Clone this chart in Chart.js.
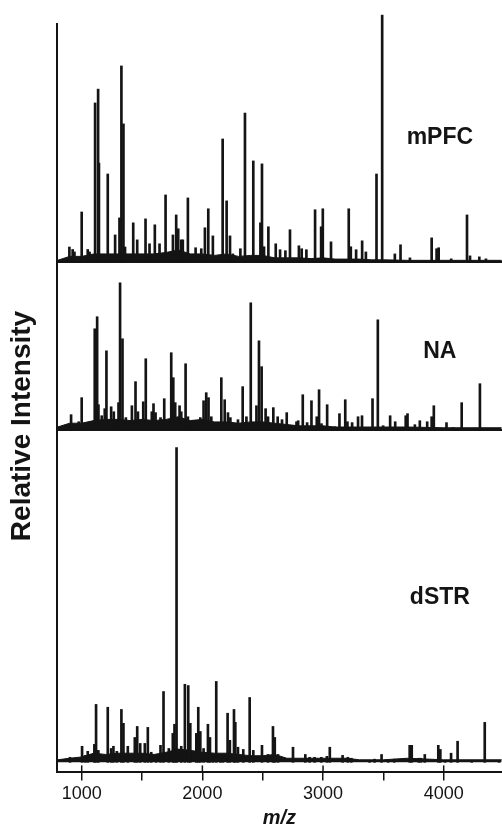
<!DOCTYPE html>
<html>
<head>
<meta charset="utf-8">
<script src="https://cdn.jsdelivr.net/npm/chart.js@4.4.1/dist/chart.umd.min.js"></script>
<style>
html,body{margin:0;padding:0;background:#fff;overflow:hidden}
canvas{display:block}
</style>
</head>
<body>
<canvas id="c" width="502" height="828"></canvas>
<script>
// ---------------- data ----------------
const panelNames = ['mPFC', 'NA', 'dSTR'];
const xTickLabels = [1000, 2000, 3000, 4000];
const xMinorTicks = [1500, 2500, 3500];

// mPFC peaks (m/z, relative intensity %)
const mpfcMz = [898, 925, 940, 1000, 1050, 1065, 1111, 1136, 1143, 1216, 1277, 1313, 1329, 1346, 1359, 1427, 1460, 1529, 1562, 1606, 1645, 1695, 1756, 1783, 1800, 1825, 1838, 1880, 1944, 1991, 2021, 2049, 2087, 2168, 2201, 2229, 2253, 2315, 2353, 2422, 2481, 2494, 2511, 2547, 2608, 2644, 2688, 2726, 2800, 2823, 2862, 2934, 2984, 2998, 3066, 3213, 3230, 3274, 3324, 3355, 3443, 3490, 3595, 3642, 3720, 3900, 3941, 3958, 4062, 4193, 4218, 4295, 4350];
const mpfcInt = [6, 5, 4, 20.2, 5, 4, 64.4, 70, 40, 35.6, 10.9, 17.8, 79.4, 55.9, 6, 15.8, 8.9, 17.4, 7.3, 15, 7.3, 27.1, 10.9, 19, 13.4, 8.9, 8.9, 25.9, 5.7, 5.3, 13.8, 21.5, 10.5, 49.8, 24.7, 10.5, 3.2, 5.3, 60.3, 40.9, 15.8, 39.7, 6.1, 14.2, 7.3, 4.9, 4.5, 13, 6.5, 5.3, 4.9, 21.1, 14.2, 21.5, 8.1, 21.5, 6.1, 4.9, 8.5, 4, 35.6, 100, 3.2, 6.9, 1.6, 9.7, 5.3, 5.7, 1.2, 19, 2.4, 2, 1.2];

// NA peaks
const naMz = [912, 975, 1000, 1045, 1108, 1128, 1139, 1166, 1191, 1205, 1244, 1266, 1305, 1318, 1338, 1366, 1416, 1446, 1466, 1510, 1531, 1581, 1595, 1612, 1653, 1684, 1742, 1759, 1775, 1811, 1825, 1861, 1880, 1922, 1950, 1983, 2010, 2032, 2051, 2074, 2157, 2185, 2212, 2232, 2295, 2334, 2365, 2401, 2448, 2469, 2491, 2524, 2544, 2588, 2624, 2660, 2699, 2732, 2780, 2794, 2832, 2868, 2904, 2948, 2967, 2987, 3034, 3098, 3136, 3184, 3202, 3241, 3290, 3323, 3410, 3454, 3498, 3556, 3598, 3637, 3685, 3700, 3761, 3802, 3863, 3900, 3918, 4023, 4078, 4149, 4300, 4424];
const naInt = [10.2, 5.4, 21.8, 4.8, 68.7, 76.9, 17, 9.5, 14.3, 53.7, 15.6, 12.2, 18.4, 100, 61.9, 8.2, 16.3, 32.7, 12.2, 19, 48.3, 12.2, 17.7, 11.6, 8.2, 21.1, 52.4, 35.4, 18.4, 16.3, 12.2, 44.9, 8.8, 6.1, 6.1, 8.2, 19.7, 25.2, 21.8, 8.8, 35.4, 20.4, 11.6, 8.2, 6.8, 29.3, 8.8, 86.4, 16.3, 60.5, 42.9, 14.3, 8.8, 15, 8.8, 6.8, 11.6, 2, 5.4, 6.1, 23.8, 4.8, 19.7, 8.8, 27.2, 4.1, 17, 2, 10.9, 20.4, 5.4, 4.8, 8.8, 9.5, 21.1, 74.8, 2.7, 9.5, 5.4, 1.4, 9.5, 10.9, 3.4, 6.1, 5.4, 8.8, 16.3, 4.8, 1.4, 18.4, 31.3, 0.7];

// dSTR peaks
const dstrMz = [903, 1003, 1028, 1050, 1105, 1119, 1138, 1216, 1244, 1263, 1291, 1329, 1346, 1382, 1440, 1460, 1485, 1523, 1548, 1576, 1617, 1653, 1678, 1722, 1755, 1769, 1786, 1825, 1855, 1883, 1900, 1950, 1966, 1983, 2010, 2046, 2063, 2088, 2115, 2149, 2170, 2209, 2228, 2262, 2273, 2295, 2339, 2392, 2422, 2494, 2544, 2585, 2600, 2627, 2751, 2853, 2889, 2930, 2986, 3032, 3056, 3162, 3206, 3234, 3386, 3427, 3485, 3540, 3590, 3718, 3735, 3793, 3810, 3843, 3955, 3972, 4011, 4061, 4115, 4232, 4340, 4459];
const dstrInt = [1.6, 5.1, 2.2, 3.5, 5.7, 18.4, 3.8, 17.5, 4.4, 5.1, 3.5, 16.8, 12.4, 5.1, 7.9, 11.4, 6, 6, 11.1, 3.2, 2.2, 5.4, 22.5, 4.4, 9.2, 12.1, 100, 5.1, 24.8, 24.4, 12.4, 9.2, 17.5, 9.8, 4.4, 12.1, 7.9, 2.5, 25.7, 2.5, 2.5, 15.6, 7, 16.8, 12.7, 4.8, 4.1, 20.6, 3.8, 5.4, 2.5, 11.4, 7.9, 2.5, 4.8, 2.5, 1.6, 1.6, 1.6, 1.9, 4.8, 2.2, 1.6, 1.3, 0.6, 1, 2.5, 0.6, 1, 5.4, 5.4, 1.3, 1.3, 2.5, 5.4, 4.1, 0.6, 2.9, 6.7, 0.6, 12.7, 0.6];

// baseline chemical-noise level
const baseMz = [800, 900, 1000, 1100, 1200, 1300, 1400, 1500, 1600, 1700, 1800, 1900, 2000, 2100, 2200, 2300, 2400, 2500, 2600, 2700, 2800, 2900, 3000, 3100, 3200, 3300, 3400, 3500, 3700, 4000, 4480];
const mpfcBase = [0.6, 2.2, 2.2, 3.2, 3.2, 3.2, 3.2, 3.2, 3.2, 3.8, 4.8, 3.2, 3.2, 2.6, 3.2, 2.2, 2.6, 2.6, 1.6, 1.6, 1.6, 1.3, 1.6, 1.1, 1.1, 1.1, 0.8, 0.8, 0.6, 0.6, 0.6];
const naBase = [1.8, 4.4, 4.4, 6.2, 7, 7, 6.2, 7, 6.2, 7, 8.8, 6.2, 7, 5.3, 5.3, 4.4, 5.3, 5.3, 4.4, 3.5, 2.6, 2.6, 2.6, 1.8, 1.8, 1.8, 1.8, 1.8, 1.8, 1.3, 1.3];
const dstrBase = [0.8, 1.3, 1.7, 2.9, 2.5, 2.9, 2.9, 2.9, 2.5, 3.2, 4.2, 3.8, 3.2, 2.9, 2.9, 2.5, 2.1, 2.1, 2.5, 1.3, 1.3, 1.3, 1.3, 1.3, 1.3, 0.8, 0.8, 0.8, 1.3, 0.8, 0.8];

// ---------------- chart ----------------
const FONT = '"Liberation Sans", Arial, Helvetica, sans-serif';
const INK = '#141414';

const pts = (xs, ys) => xs.map((x, i) => ({x: x, y: ys[i]}));

const peakSets = [
  {mz: mpfcMz, val: mpfcInt, base: mpfcBase, axis: 'y1'},
  {mz: naMz, val: naInt, base: naBase, axis: 'y2'},
  {mz: dstrMz, val: dstrInt, base: dstrBase, axis: 'y3'}
];

const datasets = [];
peakSets.forEach((p, i) => {
  datasets.push({
    type: 'bar', label: panelNames[i], data: pts(p.mz, p.val), yAxisID: p.axis,
    backgroundColor: INK, borderWidth: 0, barThickness: 2, grouped: false, clip: false
  });
  datasets.push({
    type: 'line', label: panelNames[i] + ' baseline', data: pts(baseMz, p.base), yAxisID: p.axis,
    borderColor: INK, backgroundColor: INK, borderWidth: 1, pointRadius: 0, fill: 'origin', tension: 0
  });
});

const zeroLine = ctx => (ctx.tick && ctx.tick.value === 0) ? INK : 'rgba(0,0,0,0)';
const yAxis = (weight, min, max) => ({
  type: 'linear', position: 'left', stack: 'spectra', stackWeight: weight,
  min: min, max: max, offset: false,
  ticks: {display: false, stepSize: 10},
  grid: {drawTicks: false, color: zeroLine, lineWidth: 2},
  border: {display: true, color: INK, width: 2}
});

const panelLabelPlugin = {
  id: 'panelLabels',
  afterDatasetsDraw(chart, args, opts) {
    const ctx = chart.ctx;
    const xs = chart.scales.x;
    ctx.save();
    // major ticks also cross slightly above the axis line
    ctx.strokeStyle = INK;
    ctx.lineWidth = 1.5;
    xTickLabels.forEach(v => {
      const px = xs.getPixelForValue(v);
      ctx.beginPath();
      ctx.moveTo(px, xs.top);
      ctx.lineTo(px, xs.top - opts.innerTick);
      ctx.stroke();
    });
    const x = xs.getPixelForValue(opts.mz);
    ctx.font = 'bold 23px ' + FONT;
    ctx.fillStyle = INK;
    ctx.textAlign = 'center';
    ctx.textBaseline = 'middle';
    panelNames.forEach((name, i) => {
      const y = chart.scales[peakSets[i].axis].getPixelForValue(opts.level[i]);
      ctx.fillText(name, x, y);
    });
    ctx.restore();
  }
};

new Chart(document.getElementById('c'), {
  type: 'bar',
  data: {datasets: datasets},
  plugins: [panelLabelPlugin],
  options: {
    responsive: false,
    devicePixelRatio: 1,
    animation: false,
    events: [],
    layout: {padding: {top: 24, left: 0, right: 0, bottom: 0}},
    scales: {
      x: {
        type: 'linear', position: 'bottom', min: 792, max: 4483, offset: false,
        afterBuildTicks: scale => {
          scale.ticks = xTickLabels.concat(xMinorTicks).sort((a, b) => a - b).map(v => ({value: v}));
        },
        grid: {display: true, drawOnChartArea: false, drawTicks: true, tickLength: 8, color: INK, lineWidth: 1.5, offset: false},
        border: {display: true, color: INK, width: 2},
        ticks: {
          autoSkip: false, maxRotation: 0, padding: 3,
          color: INK, font: {size: 18, family: FONT},
          callback: v => xTickLabels.includes(v) ? String(v) : ''
        },
        title: {display: true, text: 'm/z', color: INK, font: {size: 20, weight: 'bold', style: 'italic', family: FONT, lineHeight: 1}, padding: {top: 0, bottom: 0}}
      },
      y3: yAxis(343, -3.2, 105.7),
      y2: yAxis(168, 0, 114.3),
      y1: yAxis(238, 0, 96.4)
    },
    plugins: {
      legend: {display: false},
      tooltip: {enabled: false},
      title: {
        display: true, position: 'left', text: 'Relative Intensity', color: INK,
        font: {size: 28, weight: 'bold', family: FONT, lineHeight: 1.2},
        padding: {top: 5, bottom: 18}
      },
      panelLabels: {mz: 3968, level: [50.2, 53, 52.4], innerTick: 7}
    }
  }
});
</script>
</body>
</html>
